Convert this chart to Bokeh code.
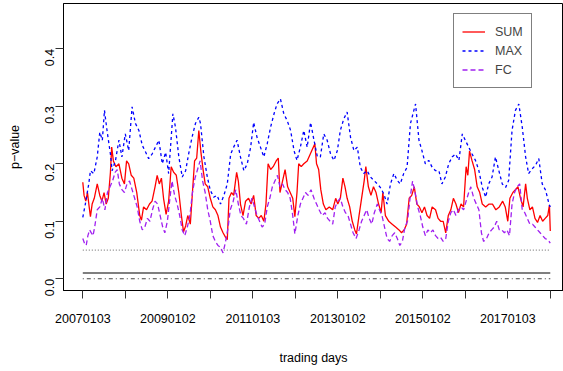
import math
from bokeh.plotting import figure
from bokeh.models import FixedTicker, NumeralTickFormatter, Range1d, Legend, LegendItem
from bokeh.embed import file_html
from bokeh.resources import INLINE

# x positions are in years since 2007-01-03 (trading-day axis), values are p-values
tick_pos = [0, 1, 2, 3, 4, 5, 6, 7, 8, 9, 10, 11]
tick_labels = ["20070103", "", "20090102", "", "20110103", "", "20130102", "",
               "20150102", "", "20170103", ""]
y_ticks = [0.0, 0.1, 0.2, 0.3, 0.4]
ref_levels = [0.05, 0.01, 0.0]

t_sum = [0.00, 0.03, 0.07, 0.11, 0.15, 0.18, 0.22, 0.27, 0.34, 0.40, 0.45, 0.50, 0.55, 0.60,
         0.65, 0.68, 0.72, 0.78, 0.85, 0.92, 0.98, 1.03, 1.08, 1.14, 1.20, 1.27, 1.34, 1.38,
         1.43, 1.50, 1.57, 1.63, 1.70, 1.75, 1.80, 1.85, 1.90, 1.96, 2.02, 2.08, 2.14, 2.20,
         2.26, 2.32, 2.37, 2.42, 2.47, 2.53, 2.58, 2.63, 2.68, 2.73, 2.78, 2.83, 2.88, 2.94,
         3.00, 3.06, 3.12, 3.18, 3.24, 3.30, 3.36, 3.40, 3.44, 3.50, 3.55, 3.62, 3.66, 3.71,
         3.77, 3.83, 3.90, 3.96, 4.02, 4.08, 4.14, 4.20, 4.26, 4.31, 4.36, 4.42, 4.48, 4.55,
         4.60, 4.64, 4.70, 4.76, 4.82, 4.88, 4.94, 4.99, 5.04, 5.08, 5.14, 5.20, 5.28, 5.34,
         5.40, 5.46, 5.50, 5.55, 5.60, 5.66, 5.72, 5.80, 5.88, 5.95, 6.00, 6.06, 6.12, 6.17,
         6.22, 6.28, 6.34, 6.40, 6.44, 6.50, 6.56, 6.62, 6.66, 6.72, 6.78, 6.84, 6.90, 6.96,
         7.02, 7.06, 7.12, 7.20, 7.28, 7.36, 7.44, 7.50, 7.56, 7.62, 7.68, 7.74, 7.80, 7.86,
         7.92, 7.98, 8.04, 8.10, 8.16, 8.22, 8.30, 8.36, 8.42, 8.48, 8.54, 8.60, 8.66, 8.72,
         8.78, 8.84, 8.90, 8.96, 9.02, 9.06, 9.10, 9.16, 9.22, 9.28, 9.34, 9.40, 9.48, 9.56,
         9.64, 9.72, 9.80, 9.88, 9.94, 10.00, 10.05, 10.12, 10.18, 10.24, 10.30, 10.36, 10.42,
         10.46, 10.52, 10.58, 10.64, 10.70, 10.76, 10.82, 10.88, 10.94, 10.98, 11.00]
v_sum = [0.168, 0.145, 0.135, 0.150, 0.125, 0.108, 0.130, 0.140, 0.165, 0.145, 0.135, 0.150,
         0.130, 0.140, 0.185, 0.229, 0.205, 0.195, 0.200, 0.175, 0.165, 0.205, 0.200, 0.180,
         0.175, 0.150, 0.110, 0.102, 0.125, 0.120, 0.130, 0.135, 0.160, 0.180, 0.165, 0.175,
         0.140, 0.112, 0.135, 0.195, 0.185, 0.180, 0.150, 0.110, 0.082, 0.092, 0.110, 0.095,
         0.150, 0.205, 0.210, 0.258, 0.220, 0.190, 0.165, 0.160, 0.140, 0.125, 0.120, 0.110,
         0.090, 0.080, 0.072, 0.068, 0.140, 0.150, 0.145, 0.185, 0.170, 0.130, 0.110, 0.135,
         0.140, 0.130, 0.145, 0.110, 0.105, 0.110, 0.100, 0.130, 0.200, 0.190, 0.195, 0.205,
         0.210, 0.150, 0.170, 0.190, 0.160, 0.150, 0.140, 0.108, 0.150, 0.200, 0.195, 0.200,
         0.205, 0.215, 0.225, 0.235, 0.200, 0.190, 0.155, 0.130, 0.120, 0.125, 0.120, 0.140,
         0.130, 0.140, 0.175, 0.160, 0.140, 0.125, 0.100, 0.085, 0.078, 0.110, 0.140, 0.170,
         0.195, 0.160, 0.145, 0.160, 0.150, 0.130, 0.115, 0.150, 0.110, 0.100, 0.095, 0.090,
         0.085, 0.080, 0.085, 0.095, 0.140, 0.145, 0.160, 0.130, 0.125, 0.115, 0.125, 0.110,
         0.105, 0.125, 0.120, 0.105, 0.100, 0.100, 0.080, 0.110, 0.120, 0.140, 0.130, 0.115,
         0.130, 0.125, 0.195, 0.180, 0.222, 0.205, 0.190, 0.160, 0.150, 0.130, 0.125, 0.130,
         0.130, 0.120, 0.125, 0.135, 0.125, 0.100, 0.140, 0.150, 0.155, 0.160, 0.140, 0.125,
         0.165, 0.140, 0.120, 0.125, 0.105, 0.098, 0.110, 0.100, 0.105, 0.110, 0.128, 0.083]

t_max = [0.00, 0.06, 0.14, 0.18, 0.26, 0.34, 0.40, 0.46, 0.51, 0.57, 0.65, 0.69, 0.77, 0.85,
         0.92, 1.00, 1.08, 1.16, 1.24, 1.32, 1.40, 1.48, 1.55, 1.63, 1.71, 1.79, 1.87, 1.95,
         2.02, 2.12, 2.18, 2.26, 2.34, 2.42, 2.49, 2.57, 2.65, 2.73, 2.77, 2.85, 2.93, 3.00,
         3.08, 3.16, 3.24, 3.32, 3.40, 3.48, 3.55, 3.63, 3.71, 3.79, 3.87, 3.95, 4.02, 4.10,
         4.18, 4.26, 4.34, 4.42, 4.50, 4.57, 4.65, 4.73, 4.81, 4.89, 4.97, 5.04, 5.12, 5.20,
         5.28, 5.36, 5.44, 5.52, 5.59, 5.67, 5.75, 5.83, 5.91, 5.99, 6.06, 6.14, 6.22, 6.30,
         6.38, 6.46, 6.53, 6.61, 6.69, 6.77, 6.85, 6.93, 7.00, 7.08, 7.16, 7.24, 7.32, 7.40,
         7.47, 7.55, 7.63, 7.71, 7.79, 7.83, 7.91, 7.98, 8.06, 8.14, 8.22, 8.30, 8.38, 8.45,
         8.53, 8.61, 8.69, 8.77, 8.85, 8.93, 9.00, 9.08, 9.16, 9.24, 9.32, 9.40, 9.48, 9.55,
         9.63, 9.71, 9.79, 9.87, 9.95, 10.02, 10.10, 10.18, 10.26, 10.34, 10.42, 10.49, 10.57,
         10.65, 10.73, 10.81, 10.89, 10.97, 11.00]
v_max = [0.107, 0.130, 0.165, 0.188, 0.183, 0.212, 0.255, 0.241, 0.293, 0.258, 0.217, 0.188,
         0.206, 0.241, 0.212, 0.252, 0.223, 0.299, 0.270, 0.258, 0.232, 0.220, 0.209, 0.217,
         0.229, 0.241, 0.200, 0.220, 0.183, 0.287, 0.264, 0.212, 0.177, 0.188, 0.217, 0.246,
         0.270, 0.281, 0.270, 0.212, 0.177, 0.154, 0.142, 0.145, 0.130, 0.145, 0.165, 0.217,
         0.229, 0.241, 0.212, 0.188, 0.200, 0.229, 0.272, 0.246, 0.229, 0.212, 0.235, 0.264,
         0.287, 0.304, 0.313, 0.287, 0.275, 0.258, 0.223, 0.206, 0.229, 0.258, 0.229, 0.272,
         0.241, 0.212, 0.212, 0.252, 0.241, 0.217, 0.206, 0.223, 0.258, 0.278, 0.290, 0.246,
         0.223, 0.229, 0.194, 0.183, 0.188, 0.177, 0.171, 0.165, 0.159, 0.148, 0.130, 0.165,
         0.183, 0.171, 0.165, 0.183, 0.194, 0.270, 0.293, 0.304, 0.241, 0.223, 0.200, 0.206,
         0.194, 0.188, 0.188, 0.165, 0.177, 0.200, 0.212, 0.217, 0.206, 0.252, 0.241, 0.229,
         0.217, 0.206, 0.188, 0.159, 0.142, 0.165, 0.177, 0.212, 0.188, 0.165, 0.159, 0.171,
         0.258, 0.293, 0.304, 0.264, 0.212, 0.183, 0.191, 0.197, 0.209, 0.165, 0.154, 0.130,
         0.125]

t_fc = [0.00, 0.04, 0.08, 0.12, 0.16, 0.20, 0.24, 0.28, 0.34, 0.40, 0.46, 0.52, 0.58, 0.64,
        0.70, 0.76, 0.81, 0.86, 0.92, 0.98, 1.04, 1.10, 1.16, 1.22, 1.28, 1.34, 1.40, 1.46,
        1.52, 1.58, 1.64, 1.70, 1.76, 1.82, 1.88, 1.93, 1.99, 2.05, 2.10, 2.16, 2.22, 2.28,
        2.34, 2.40, 2.46, 2.52, 2.58, 2.64, 2.70, 2.76, 2.82, 2.88, 2.94, 3.00, 3.06, 3.12,
        3.18, 3.24, 3.30, 3.36, 3.42, 3.47, 3.54, 3.60, 3.66, 3.72, 3.78, 3.85, 3.92, 3.98,
        4.04, 4.10, 4.16, 4.22, 4.28, 4.34, 4.40, 4.46, 4.52, 4.58, 4.64, 4.70, 4.76, 4.82,
        4.88, 4.94, 4.99, 5.06, 5.12, 5.18, 5.24, 5.30, 5.37, 5.44, 5.50, 5.56, 5.63, 5.70,
        5.76, 5.82, 5.88, 5.94, 6.00, 6.06, 6.12, 6.18, 6.24, 6.30, 6.36, 6.43, 6.50, 6.56,
        6.62, 6.68, 6.74, 6.80, 6.86, 6.93, 6.98, 7.04, 7.10, 7.16, 7.22, 7.28, 7.34, 7.40,
        7.46, 7.52, 7.58, 7.64, 7.70, 7.76, 7.82, 7.88, 7.94, 8.00, 8.06, 8.12, 8.18, 8.24,
        8.30, 8.36, 8.42, 8.48, 8.54, 8.60, 8.66, 8.72, 8.78, 8.84, 8.90, 8.96, 9.02, 9.08,
        9.13, 9.20, 9.26, 9.32, 9.38, 9.43, 9.50, 9.56, 9.62, 9.68, 9.74, 9.80, 9.86, 9.92,
        9.98, 10.04, 10.10, 10.16, 10.22, 10.28, 10.34, 10.40, 10.46, 10.52, 10.58, 10.64,
        10.70, 10.76, 10.82, 10.88, 10.94, 11.00]
v_fc = [0.070, 0.062, 0.058, 0.075, 0.085, 0.080, 0.075, 0.090, 0.120, 0.125, 0.140, 0.120,
        0.150, 0.160, 0.170, 0.185, 0.190, 0.165, 0.155, 0.150, 0.165, 0.170, 0.155, 0.140,
        0.125, 0.100, 0.085, 0.090, 0.105, 0.100, 0.120, 0.135, 0.130, 0.110, 0.090, 0.080,
        0.100, 0.140, 0.170, 0.145, 0.130, 0.110, 0.085, 0.075, 0.090, 0.110, 0.150, 0.175,
        0.190, 0.205, 0.170, 0.150, 0.120, 0.100, 0.075, 0.065, 0.058, 0.055, 0.045, 0.065,
        0.090, 0.120, 0.135, 0.155, 0.130, 0.110, 0.105, 0.095, 0.125, 0.140, 0.125, 0.110,
        0.100, 0.090, 0.095, 0.125, 0.140, 0.160, 0.170, 0.180, 0.160, 0.165, 0.155, 0.150,
        0.140, 0.110, 0.078, 0.110, 0.130, 0.140, 0.150, 0.145, 0.155, 0.140, 0.130, 0.120,
        0.110, 0.115, 0.105, 0.100, 0.095, 0.125, 0.135, 0.140, 0.125, 0.115, 0.110, 0.095,
        0.080, 0.070, 0.085, 0.100, 0.110, 0.120, 0.105, 0.095, 0.115, 0.130, 0.120, 0.110,
        0.090, 0.070, 0.065, 0.075, 0.080, 0.070, 0.058, 0.065, 0.090, 0.100, 0.140, 0.170,
        0.150, 0.125, 0.110, 0.090, 0.075, 0.085, 0.080, 0.085, 0.075, 0.070, 0.072, 0.065,
        0.070, 0.100, 0.115, 0.120, 0.110, 0.120, 0.125, 0.120, 0.135, 0.150, 0.160, 0.140,
        0.130, 0.120, 0.080, 0.065, 0.070, 0.080, 0.085, 0.090, 0.100, 0.085, 0.085, 0.080,
        0.085, 0.075, 0.130, 0.150, 0.160, 0.165, 0.120, 0.115, 0.105, 0.095, 0.095, 0.090,
        0.085, 0.080, 0.075, 0.070, 0.068, 0.062]

FONT = "Liberation Sans"
FS = "12.5px"

p = figure(width=563, height=371, output_backend="svg", toolbar_location=None,
           x_range=Range1d(-0.454, 11.311), y_range=Range1d(-0.02035, 0.4788),
           min_border_left=63, min_border_right=0, min_border_top=3, min_border_bottom=81)
p.background_fill_color = "white"
p.border_fill_color = "white"
p.outline_line_color = "black"
p.outline_line_width = 1
p.xgrid.grid_line_color = None
p.ygrid.grid_line_color = None

# reference levels, spanning the data's date range
x_span = [t_sum[0], t_sum[-1]]
p.line(x_span, [ref_levels[0]] * 2, line_color="#808080", line_width=1.2, line_dash="1 2")
p.line(x_span, [ref_levels[1]] * 2, line_color="#555555", line_width=1.6)
p.line(x_span, [ref_levels[2]] * 2, line_color="#444444", line_width=1.1, line_dash="1 3 4 3")

r_sum = p.line(t_sum, v_sum, line_color="#FF0000", line_width=1.3)
r_max = p.line(t_max, v_max, line_color="#0000FF", line_width=1.3, line_dash="3 3")
r_fc = p.line(t_fc, v_fc, line_color="#A020F0", line_width=1.3, line_dash="5 3")

# axes
xa = p.xaxis[0]
xa.ticker = FixedTicker(ticks=tick_pos)
xa.major_label_overrides = {k: v for k, v in zip(tick_pos, tick_labels)}
xa.axis_label = "trading days"
xa.major_tick_out = 8
xa.major_tick_in = 0
xa.minor_tick_line_color = None
xa.major_label_standoff = 15
xa.axis_label_standoff = 25

ya = p.yaxis[0]
ya.ticker = FixedTicker(ticks=y_ticks)
ya.formatter = NumeralTickFormatter(format="0.0")
ya.axis_label = "p\u2212value"
ya.major_tick_out = 8
ya.major_tick_in = 0
ya.minor_tick_line_color = None
ya.major_label_orientation = math.pi / 2
ya.major_label_standoff = 6
ya.axis_label_standoff = 16

for ax in (xa, ya):
    ax.axis_line_color = "black"
    ax.major_tick_line_color = "#333333"
    ax.major_label_text_font = FONT
    ax.major_label_text_font_size = FS
    ax.major_label_text_color = "black"
    ax.axis_label_text_font = FONT
    ax.axis_label_text_font_size = FS
    ax.axis_label_text_font_style = "normal"
    ax.axis_label_text_color = "black"

legend = Legend(items=[LegendItem(label="SUM", renderers=[r_sum]),
                       LegendItem(label="MAX", renderers=[r_max]),
                       LegendItem(label="FC", renderers=[r_fc])],
                location=(390, 202))
legend.margin = 0
legend.padding = 8
legend.spacing = 0
legend.glyph_width = 23
legend.glyph_height = 19
legend.label_height = 19
legend.label_standoff = 10
legend.label_text_font = FONT
legend.label_text_font_size = FS
legend.border_line_color = "black"
legend.border_line_width = 1
legend.background_fill_color = "white"
legend.background_fill_alpha = 1.0
p.add_layout(legend, "center")

open("out.html", "w").write(file_html(p, INLINE))
